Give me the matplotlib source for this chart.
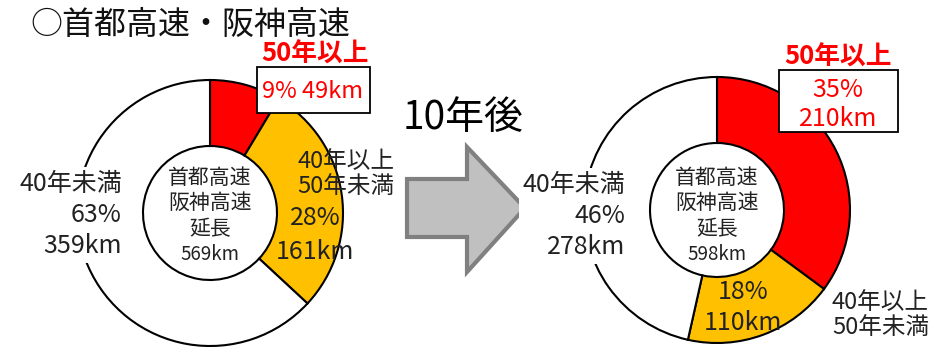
import matplotlib
matplotlib.use('Agg')
import matplotlib.pyplot as plt
from matplotlib.patches import Polygon, Rectangle

plt.rcParams['font.family'] = ['Noto Sans CJK JP', 'DejaVu Sans']

# data (km by age class): 50年以上, 40年以上50年未満, 40年未満
categories = ['50年以上', '40年以上\n50年未満', '40年未満']
km_now = [49, 161, 359]
km_later = [210, 110, 278]
pct_now = [9, 28, 63]
pct_later = [35, 18, 46]
total_now = 569
total_later = 598
colors = ['#ff0000', '#ffc000', '#ffffff']

W, H = 935, 347


def Y(y):
    # pixel row (top down) -> axis coordinate
    return H - y


fig = plt.figure(figsize=(W / 100, H / 100), dpi=100)
ax = fig.add_axes([0, 0, 1, 1])

R = 133
R_IN = 67


def donut(cx, cy, values):
    ax.pie(values, colors=colors, startangle=90, counterclock=False,
           center=(cx, Y(cy)), radius=R, frame=True,
           wedgeprops=dict(width=R - R_IN, edgecolor='black', linewidth=1.5))


def center_text(cx, total):
    for txt, y, fs in [('首都高速', 178, 15), ('阪神高速', 203, 15), ('延長', 229, 15),
                       ('%dkm' % total, 255, 13.5)]:
        ax.text(cx, Y(y), txt, ha='center', va='center', fontsize=fs, color='#222222')


def red_box(x0, y0, x1, y1):
    # framed white box behind the 50年以上 values
    ax.add_patch(Rectangle((x0, Y(y1)), x1 - x0, y1 - y0, facecolor='white',
                           edgecolor='black', linewidth=1.3, zorder=3))


# left donut
donut(210, 213, km_now)
center_text(210, total_now)
ax.text(122, Y(215), '%s\n%d%%\n%dkm' % (categories[2], pct_now[2], km_now[2]),
        ha='right', va='center', fontsize=18, linespacing=1.25, color='#222222',
        bbox=dict(facecolor='white', edgecolor='none', boxstyle='square,pad=0.15'))
ax.text(297, Y(174), categories[1], ha='left', va='center', fontsize=17,
        linespacing=1.15, color='#222222')
ax.text(315, Y(218), '%d%%' % pct_now[1], ha='center', va='center', fontsize=18, color='#222222')
ax.text(315, Y(252), '%dkm' % km_now[1], ha='center', va='center', fontsize=18, color='#222222')
ax.text(315, Y(54), categories[0], ha='center', va='center', fontsize=18.5,
        fontweight='bold', color='#ff0000')
red_box(257, 67, 370, 113)
ax.text(313, Y(91), '%d%% %dkm' % (pct_now[0], km_now[0]), ha='center', va='center',
        fontsize=17, color='#ff0000', zorder=4)

# right donut
donut(717, 210, km_later)
center_text(717, total_later)
ax.text(625, Y(216), '%s\n%d%%\n%dkm' % (categories[2], pct_later[2], km_later[2]),
        ha='right', va='center', fontsize=18, linespacing=1.25, color='#222222',
        bbox=dict(facecolor='white', edgecolor='none', boxstyle='square,pad=0.15'))
ax.text(743, Y(292), '%d%%' % pct_later[1], ha='center', va='center', fontsize=18, color='#222222')
ax.text(743, Y(323), '%dkm' % km_later[1], ha='center', va='center', fontsize=18, color='#222222')
ax.text(832, Y(315), categories[1], ha='left', va='center', fontsize=17,
        linespacing=1.15, color='#222222')
ax.text(838, Y(57), categories[0], ha='center', va='center', fontsize=18.5,
        fontweight='bold', color='#ff0000')
red_box(779, 70, 898, 132)
ax.text(838, Y(90), '%d%%' % pct_later[0], ha='center', va='center',
        fontsize=18, color='#ff0000', zorder=4)
ax.text(838, Y(119), '%dkm' % km_later[0], ha='center', va='center',
        fontsize=18, color='#ff0000', zorder=4)

# arrow
arrow_pts = [(407, 179), (467, 179), (467, 147), (525, 208), (467, 272), (467, 237), (407, 237)]
ax.add_patch(Polygon([(x, Y(y)) for x, y in arrow_pts], closed=True,
                     facecolor='#c0c0c0', edgecolor='#808080', linewidth=3, zorder=1))
ax.text(463, Y(118), '10年後', ha='center', va='center', fontsize=28, color='black')

# title
ax.text(30, Y(25), '○首都高速・阪神高速', ha='left', va='center', fontsize=23, color='#111111')

ax.set_xlim(0, W)
ax.set_ylim(0, H)
ax.set_aspect('auto')
ax.axis('off')

fig.savefig('out.png', dpi=100)
